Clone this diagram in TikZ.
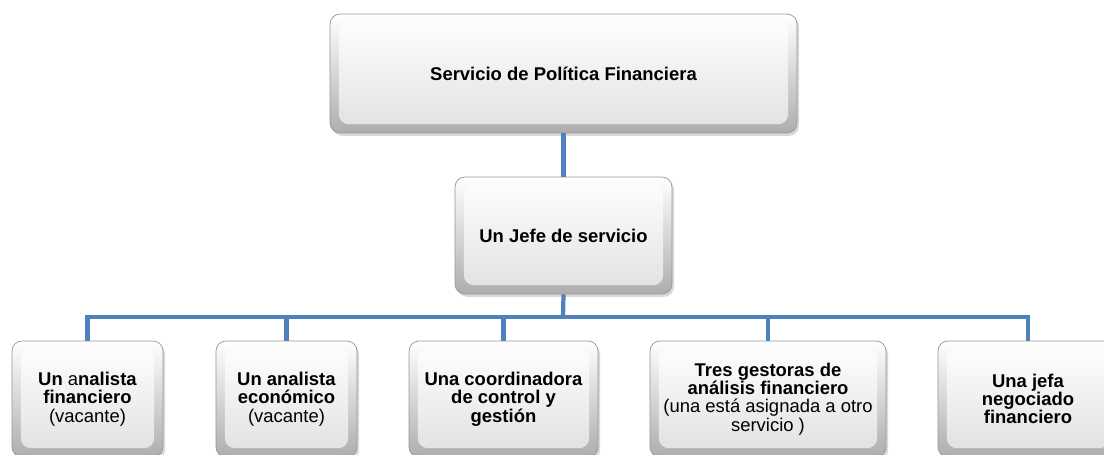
\documentclass[tikz,border=0pt]{standalone}
\usepackage{fontspec}
\setmainfont{Liberation Sans}
\usetikzlibrary{shadows}
\definecolor{linkblue}{RGB}{79,129,189}
\definecolor{framegray}{RGB}{150,150,150}

\tikzset{
  orgbox/.style={draw=framegray, rounded corners=0.2cm, align=center, inner sep=2pt,
    top color=white, bottom color=black!32,
    drop shadow={shadow xshift=1.2pt, shadow yshift=-1.6pt, opacity=0.3},
    path picture={\shade[top color=white, bottom color=black!12]
      ([shift={(5pt,-4pt)}]path picture bounding box.north west) rectangle
      ([shift={(-5pt,5pt)}]path picture bounding box.south east);}},
  bigtext/.style={font=\fontsize{10.5}{12}\selectfont\bfseries},
  smalltext/.style={font=\fontsize{10.5}{10.4}\selectfont},
  link/.style={draw=linkblue, line width=2.4pt},
}

\begin{document}
\begin{tikzpicture}[x=0.02cm, y=-0.02cm]
  \clip (0,0) rectangle (1104,455);
  % top levels
  \node[orgbox, bigtext, minimum width=9.34cm, minimum height=2.38cm] (top) at (563.5,73.5) {Servicio de Política Financiera};
  \node[orgbox, bigtext, minimum width=4.34cm, minimum height=2.34cm] (mid) at (563.5,235.5) {Un Jefe de servicio};
  % staff
  \node[orgbox, smalltext, minimum width=3.02cm, minimum height=2.32cm] (b1) at (87.5,399)
    {\textbf{Un} a\textbf{nalista}\\ \textbf{financiero}\\ (vacante)};
  \node[orgbox, smalltext, minimum width=2.82cm, minimum height=2.32cm] (b2) at (286.5,399)
    {\textbf{Un analista}\\ \textbf{económico}\\ (vacante)};
  \node[orgbox, smalltext, minimum width=3.78cm, minimum height=2.32cm] (b3) at (503.5,399)
    {\textbf{Una coordinadora}\\ \textbf{de control y}\\ \textbf{gestión}};
  \node[orgbox, smalltext, minimum width=4.72cm, minimum height=2.32cm] (b4) at (768,399)
    {\textbf{Tres gestoras de}\\ \textbf{análisis financiero}\\ (una está asignada a otro\\ servicio )};
  \node[orgbox, smalltext, minimum width=3.6cm, minimum height=2.32cm] (b5) at (1028,399)
    {\textbf{Una jefa}\\ \textbf{negociado}\\ \textbf{financiero}};
  % connectors
  \coordinate (bar) at (563,317);
  \draw[link] (top.south) -- (mid.north);
  \draw[link] (mid.south) -- (bar);
  \foreach \b in {b1,b2,b3,b4,b5}
    \draw[link] (bar) -| (\b.north);
\end{tikzpicture}
\end{document}
